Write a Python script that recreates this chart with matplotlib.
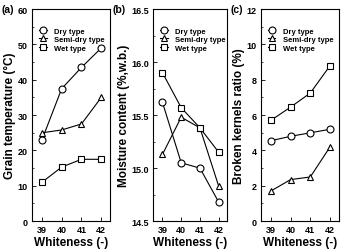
import numpy as np
import matplotlib
matplotlib.use("Agg")
import matplotlib.pyplot as plt
from matplotlib.ticker import MultipleLocator

plt.rcParams['font.family'] = ['Liberation Sans', 'DejaVu Sans']
plt.rcParams['font.weight'] = 'bold'

whiteness = [39, 40, 41, 42]
series = ["Dry type", "Semi-dry type", "Wet type"]
markers = ["o", "^", "s"]

temp_dry = [23.0, 37.5, 43.5, 49.0]
temp_semi = [25.0, 25.8, 27.5, 35.0]
temp_wet = [11.0, 15.3, 17.5, 17.5]

moist_dry = [15.62, 15.05, 15.00, 14.68]
moist_semi = [15.13, 15.48, 15.38, 14.83]
moist_wet = [15.90, 15.57, 15.38, 15.15]

broken_dry = [4.55, 4.80, 5.00, 5.20]
broken_semi = [1.70, 2.35, 2.50, 4.20]
broken_wet = [5.70, 6.45, 7.25, 8.80]

panels = [
    ("(a)", [temp_dry, temp_semi, temp_wet], "Grain temperature (\u00b0C)", (0, 60), 10, 5, -0.385),
    ("(b)", [moist_dry, moist_semi, moist_wet], "Moisture content (%,w.b.)", (14.5, 16.5), 0.5, 0.25, -0.55),
    ("(c)", [broken_dry, broken_semi, broken_wet], "Broken kernels ratio (%)", (0, 12), 2, 1, -0.385),
]
positions = [
    [0.094, 0.122, 0.229, 0.838],
    [0.449, 0.122, 0.217, 0.838],
    [0.765, 0.122, 0.229, 0.838],
]

fig = plt.figure(figsize=(3.41, 2.53), dpi=100)
for pos, (tag, data, ylabel, ylim, major, minor, tagx) in zip(positions, panels):
    ax = fig.add_axes(pos)
    for vals, m, name in zip(data, markers, series):
        ax.plot(whiteness, vals, color="black", lw=0.8, marker=m, markersize=5,
                markerfacecolor="white", markeredgecolor="black", markeredgewidth=0.8,
                label=name)
    ax.set_xlim(38.5, 42.45)
    ax.set_ylim(*ylim)
    ax.set_xticks(whiteness)
    ax.yaxis.set_major_locator(MultipleLocator(major))
    ax.yaxis.set_minor_locator(MultipleLocator(minor))
    ax.tick_params(direction="in", labelsize=6.5, length=3, width=0.6, pad=3)
    ax.tick_params(which="minor", direction="in", length=1.5, width=0.5)
    for s in ax.spines.values():
        s.set_linewidth(0.8)
    ax.set_xlabel("Whiteness (-)", fontsize=8.5, fontweight="bold", labelpad=1)
    ax.set_ylabel(ylabel, fontsize=8.5, fontweight="bold", labelpad=1)
    ax.legend(loc="upper left", bbox_to_anchor=(0.02, 0.94), frameon=False, fontsize=5.5,
              handlelength=1.0, handletextpad=1.0, labelspacing=0.15, borderaxespad=0.3)
    ax.text(tagx, 1.0, tag, transform=ax.transAxes,
            fontsize=7.5, fontweight="bold", va="center", ha="left")

fig.savefig("out.png", dpi=100)
